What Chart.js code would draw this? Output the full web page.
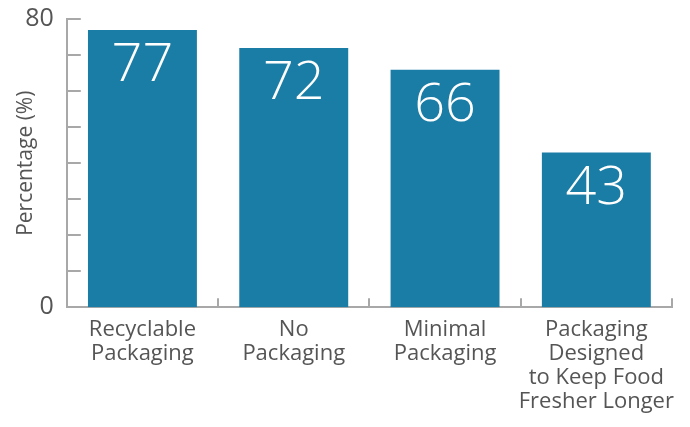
<!DOCTYPE html>
<html>
<head>
<meta charset="utf-8">
<script src="https://cdn.jsdelivr.net/npm/chart.js@4"></script>
<style>
  html, body { margin: 0; padding: 0; background: #fff; }
  #wrap { width: 690px; height: 427px; }
</style>
</head>
<body>
<div id="wrap"><canvas id="chart"></canvas></div>
<script>
const categories = [
    ['Recyclable', 'Packaging'],
    ['No', 'Packaging'],
    ['Minimal', 'Packaging'],
    ['Packaging', 'Designed', 'to Keep Food', 'Fresher Longer']
];
const percentages = [77, 72, 66, 43];
const shownTicks = [0, 80];

const barColor = '#1a7da6';
const axisColor = '#a8a8a8';
const textColor = '#555555';

// short tick marks drawn inward from the axes, plus value labels inside bars
const axisMarks = {
    id: 'axisMarks',
    afterDatasetsDraw(chart) {
        const ctx = chart.ctx;
        const area = chart.chartArea;
        const y = chart.scales.y;
        const x = chart.scales.x;
        ctx.save();
        ctx.strokeStyle = axisColor;
        ctx.lineWidth = 2;
        y.ticks.forEach(t => {
            const py = Math.round(y.getPixelForValue(t.value));
            ctx.beginPath();
            ctx.moveTo(area.left, py);
            ctx.lineTo(area.left + 14, py);
            ctx.stroke();
        });
        const step = x.getPixelForValue(1) - x.getPixelForValue(0);
        for (let i = 0; i < categories.length; i++) {
            const px = Math.round(x.getPixelForValue(i) + step / 2);
            ctx.beginPath();
            ctx.moveTo(px, area.bottom);
            ctx.lineTo(px, area.bottom - 9);
            ctx.stroke();
        }

        const meta = chart.getDatasetMeta(0);
        ctx.fillStyle = '#ffffff';
        ctx.font = '300 54px "Open Sans"';
        ctx.textAlign = 'center';
        ctx.textBaseline = 'middle';
        meta.data.forEach((bar, i) => {
            ctx.fillText(String(percentages[i]), bar.x, bar.y + 36);
        });
        ctx.restore();
    }
};

new Chart(document.getElementById('chart').getContext('2d'), {
    type: 'bar',
    data: {
        labels: categories,
        datasets: [{
            data: percentages,
            backgroundColor: barColor,
            borderWidth: 0,
            categoryPercentage: 0.72,
            barPercentage: 1
        }]
    },
    options: {
        responsive: true,
        maintainAspectRatio: false,
        animation: false,
        layout: { padding: { top: 0, right: 18, bottom: 3, left: 0 } },
        plugins: {
            legend: { display: false },
            tooltip: { enabled: false }
        },
        scales: {
            x: {
                grid: { display: false, drawTicks: false },
                border: { display: true, color: axisColor, width: 2 },
                ticks: {
                    color: textColor,
                    font: { family: 'Open Sans', size: 22, lineHeight: 1.1 },
                    padding: 10,
                    maxRotation: 0,
                    autoSkip: false
                }
            },
            y: {
                min: 0,
                max: 80,
                grid: { display: false, drawTicks: false },
                border: { display: true, color: axisColor, width: 2 },
                ticks: {
                    stepSize: 10,
                    color: textColor,
                    font: { family: 'Open Sans', size: 25, lineHeight: 0.5 },
                    padding: 13,
                    callback: v => shownTicks.includes(v) ? v : ''
                },
                title: {
                    display: true,
                    text: 'Percentage (%)',
                    color: textColor,
                    font: { family: 'Open Sans', size: 21 },
                    padding: { top: 13, bottom: -26 }
                }
            }
        }
    },
    plugins: [axisMarks]
});
</script>
</body>
</html>
